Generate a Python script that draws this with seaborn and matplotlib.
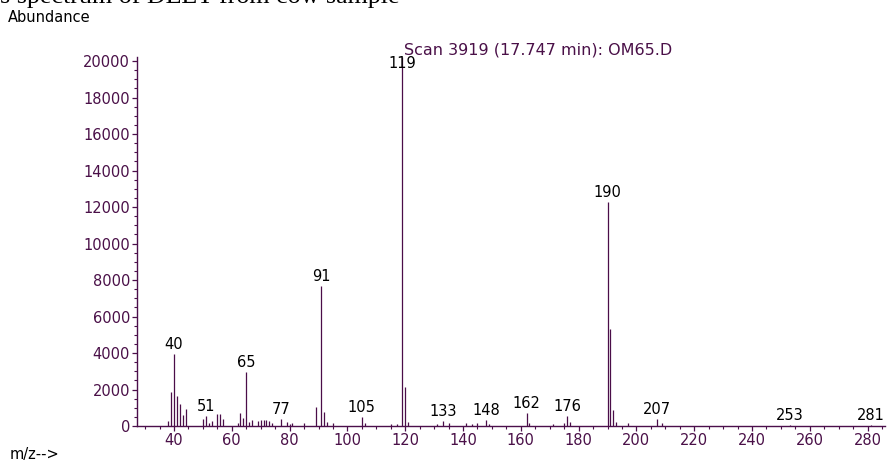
import numpy as np
import pandas as pd
import matplotlib
matplotlib.use("Agg")
import matplotlib.pyplot as plt
from matplotlib.ticker import MultipleLocator
import seaborn as sns

# m/z values and abundances
mz = [38, 39, 40, 41, 42, 43, 44, 50, 51, 52, 53, 55, 56, 57, 62, 63, 64, 65,
      66, 67, 69, 70, 71, 72, 73, 74, 77, 79, 80, 81, 85, 89, 91, 92, 93, 95,
      105, 106, 115, 117, 119, 120, 121, 131, 133, 135, 141, 143, 145, 148,
      149, 162, 163, 171, 175, 176, 177, 190, 191, 192, 193, 197, 207, 209,
      253, 281]
abundance = [270, 1880, 3950, 1640, 1190, 585, 930, 380, 550, 150, 270, 660,
             660, 380, 180, 730, 450, 2980, 240, 330, 290, 320, 330, 330, 250,
             170, 365, 230, 120, 190, 190, 1060, 7650, 750, 220, 190, 510, 190,
             100, 110, 20200, 2150, 240, 120, 270, 150, 150, 120, 160, 330,
             110, 695, 160, 120, 140, 550, 200, 12250, 5300, 850, 240, 160,
             365, 150, 70, 70]

labelled = [40, 51, 65, 77, 91, 105, 119, 133, 148, 162, 176, 190, 207, 253, 281]

df = pd.DataFrame({"mz": mz, "abundance": abundance})

purple = "#4b0f4b"
tick_col = "#4a1048"

sns.set_style("ticks")
plt.rcParams["font.family"] = ["DejaVu Sans"]

fig = plt.figure(figsize=(8.91, 4.61), dpi=100)
ax = fig.add_axes([137 / 891, 35 / 461, 748 / 891, 369 / 461])

ax.vlines(df["mz"], 0, df["abundance"], color="#4a0d48", linewidth=0.9)

for m in labelled:
    h = df.loc[df["mz"] == m, "abundance"].iloc[0]
    if m == 119:
        # base peak label sits on the line, just under the top of the axes
        ax.annotate(str(m), (m, h), xytext=(0, -4.5), textcoords="offset points",
                    ha="center", va="center", fontsize=10.5, color="black")
    else:
        ax.annotate(str(m), (m, h), xytext=(0, 1.5), textcoords="offset points",
                    ha="center", va="bottom", fontsize=10.5, color="black")

ax.set_xlim(27.2, 286)
ax.set_ylim(0, 20220)
ax.xaxis.set_major_locator(MultipleLocator(20))
ax.xaxis.set_minor_locator(MultipleLocator(5))
ax.yaxis.set_major_locator(MultipleLocator(2000))
ax.yaxis.set_minor_locator(MultipleLocator(500))

sns.despine(ax=ax)
for s in ["left", "bottom"]:
    ax.spines[s].set_color(purple)
    ax.spines[s].set_linewidth(1.0)
ax.tick_params(which="major", length=3.5, width=0.9, color=purple,
               labelcolor=tick_col, labelsize=10.5, pad=1.5)
ax.tick_params(which="minor", length=2, width=0.8, color=purple)
ax.set_xticks([t for t in range(40, 281, 20)])

fig.text(0, 1 - 3 / 461, "s spectrum of DEET from cow sample", ha="left",
         va="baseline", fontsize=18.7, family="Liberation Serif", color="black")
fig.text(8 / 891, 1 - 17 / 461, "Abundance", ha="left", va="center",
         fontsize=10.5, color="black")
fig.text(10 / 891, 1 - 454 / 461, "m/z-->", ha="left", va="center",
         fontsize=10.5, color="black")
fig.text(404 / 891, 1 - 50 / 461, "Scan 3919 (17.747 min): OM65.D", ha="left",
         va="center", fontsize=11.5, color=tick_col)

fig.savefig("out.png", dpi=100)
